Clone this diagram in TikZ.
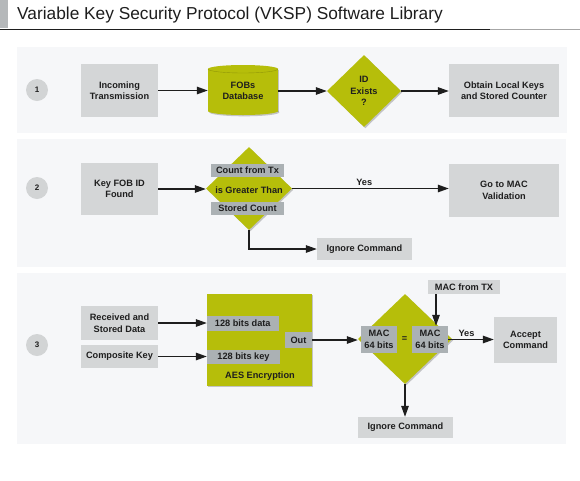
\documentclass[tikz,border=0pt]{standalone}
\usepackage{fontspec}
\setmainfont{Liberation Sans}
\usetikzlibrary{shapes.geometric,arrows.meta,shadows}
\definecolor{panelbg}{HTML}{F6F7F9}
\definecolor{boxgray}{HTML}{D4D6D7}
\definecolor{circgray}{HTML}{D2D4D5}
\definecolor{bargray}{HTML}{ABB1B4}
\definecolor{leaf}{HTML}{B6BE0A}
\definecolor{ink}{HTML}{1E1E1E}
\definecolor{titlegray}{HTML}{B5B8BA}
\begin{document}
\begin{tikzpicture}[x=1pt,y=-1pt,
  txt/.style={font=\bfseries\fontsize{9.2}{11.5}\selectfont, text=ink, align=center, inner sep=0pt},
  gbox/.style={txt, fill=boxgray, rectangle},
  bar/.style={txt, fill=bargray, rectangle},
  gshadow/.style={drop shadow={shadow xshift=1.3pt,shadow yshift=-1.3pt,opacity=0.3,fill=black!70}},
  grect/.style={fill=leaf, inner sep=0pt, rectangle, gshadow},
  gdia/.style={diamond, fill=leaf, inner sep=0pt, aspect=1, gshadow},
  num/.style={circle, fill=circgray, minimum size=22pt, inner sep=0pt, font=\bfseries\fontsize{8}{9}\selectfont, text=ink},
  arr/.style={line width=1.3pt, draw=ink, -{Triangle[length=11pt,width=7.5pt]}},
  panel/.style={fill=panelbg}
]
\useasboundingbox (0,0) rectangle (580,480);
\fill[white] (0,0) rectangle (580,480);

% title
\fill[titlegray] (0,0) rectangle (8,28);
\node[anchor=base west, inner sep=0pt, font=\fontsize{17.3}{20}\selectfont, text=ink] (title) at (17,19.5) {Variable Key Security Protocol (VKSP) Software Library};
\draw[line width=1.2pt, draw=ink] (0,29.5) -- (490,29.5);
\draw[line width=1.2pt, draw=black!35] (490,29.5) -- (580,29.5);

% panels
\fill[panel] (17,47) rectangle (567,133);
\fill[panel] (17,139) rectangle (566,267);
\fill[panel] (17,273) rectangle (566,444);

% ---------- row 1
\node[num] (n1) at (37,90) {1};
\node[gbox, minimum width=77pt, minimum height=53pt] (inc) at (119.5,90.5) {Incoming\\Transmission};
% cylinder
\fill[black!70, opacity=0.3] (209.3,70.3) rectangle (279.3,112.3);
\fill[black!70, opacity=0.3] (244.3,112.3) ellipse [x radius=35, y radius=4];
\fill[leaf] (208,69) rectangle (278,111);
\fill[leaf] (243,111) ellipse [x radius=35, y radius=4];
\fill[leaf] (243,69) ellipse [x radius=35, y radius=4];
\draw[leaf!80!black, line width=0.4pt] (208,69) arc[start angle=180, end angle=0, x radius=35, y radius=4];
\node[txt, minimum width=70pt, minimum height=50pt] (db) at (243,91) {FOBs\\Database};
\node[gdia, minimum width=74pt, minimum height=72pt] (idd) at (364,91) {};
\node[txt] (iddt) at (idd.center) {ID\\Exists\\?};
\node[gbox, minimum width=110pt, minimum height=53pt] (obt) at (504,90.5) {Obtain Local Keys\\and Stored Counter};
\draw[arr] (inc.east) -- (inc.east -| db.west);
\draw[arr] (db.east |- idd.west) -- (idd.west);
\draw[arr] (idd.east) -- (idd.east -| obt.west);

% ---------- row 2
\node[num] (n2) at (37,188) {2};
\node[gbox, minimum width=77pt, minimum height=52pt] (key) at (119.5,189) {Key FOB ID\\Found};
\node[gdia, minimum width=86pt, minimum height=83pt] (cmp) at (249,188.5) {};
\node[bar, minimum width=73pt, minimum height=13pt] (cft) at (247.5,170.5) {Count from Tx};
\node[txt] (igt) at (249,190) {is Greater Than};
\node[bar, minimum width=73pt, minimum height=13pt] (stc) at (247.5,208.5) {Stored Count};
\node[gbox, minimum width=110pt, minimum height=53pt] (goto) at (504,190.5) {Go to MAC\\Validation};
\node[gbox, minimum width=95pt, minimum height=22pt] (ign1) at (364.5,249) {Ignore Command};
\draw[arr] (key.east) -- (key.east -| cmp.west);
\draw[arr] (cmp.east) -- node[txt, above=2pt, pos=0.46] (yes1) {Yes} (cmp.east -| goto.west);
\draw[arr] (cmp.south) |- (ign1.west);

% ---------- row 3
\node[num] (n3) at (37,345) {3};
\node[gbox, minimum width=77pt, minimum height=34pt] (rsd) at (119.5,323) {Received and\\Stored Data};
\node[gbox, minimum width=77pt, minimum height=23pt] (ck) at (119.5,356.5) {Composite Key};
\node[grect, minimum width=105pt, minimum height=92pt] (aes) at (259.5,340) {};
\node[bar, minimum width=71.5pt, minimum height=14.5pt] (bd) at (242.75,323.25) {128 bits data};
\node[bar, minimum width=73pt, minimum height=14pt] (bk) at (243.5,357) {128 bits key};
\node[bar, minimum width=27pt, minimum height=15.5pt] (out) at (298.5,340) {Out};
\node[txt] (aeslbl) at (260,376) {AES Encryption};
\draw[arr] (rsd.east) -- (rsd.east -| bd.west);
\draw[arr] (ck.east) -- (ck.east -| bk.west);

\node[gdia, minimum width=94pt, minimum height=90pt] (mac) at (405,339) {};
\node[bar, minimum width=36pt, minimum height=27pt] (m1) at (379,339.5) {MAC\\64 bits};
\node[bar, minimum width=36pt, minimum height=27pt] (m2) at (430,339.5) {MAC\\64 bits};
\node[txt] (eq) at (404.5,339.5) {=};
\draw[arr] (out.east) -- (out.east -| mac.west);

\node[gbox, minimum width=72pt, minimum height=14pt] (mtx) at (464,287) {MAC from TX};
\draw[arr] ([xshift=-28pt]mtx.south) -- ([xshift=-28pt]mtx.south |- m2.north);

\node[gbox, minimum width=63pt, minimum height=46pt] (acc) at (525.5,340) {Accept\\Command};
\draw[arr] (m2.east) -- node[txt, above=2pt, pos=0.4] (yes2) {Yes} (m2.east -| acc.west);

\node[gbox, minimum width=95pt, minimum height=21pt] (ign2) at (405.5,427.5) {Ignore Command};
\draw[arr] (mac.south) -- (mac.south |- ign2.north);
\end{tikzpicture}
\end{document}
